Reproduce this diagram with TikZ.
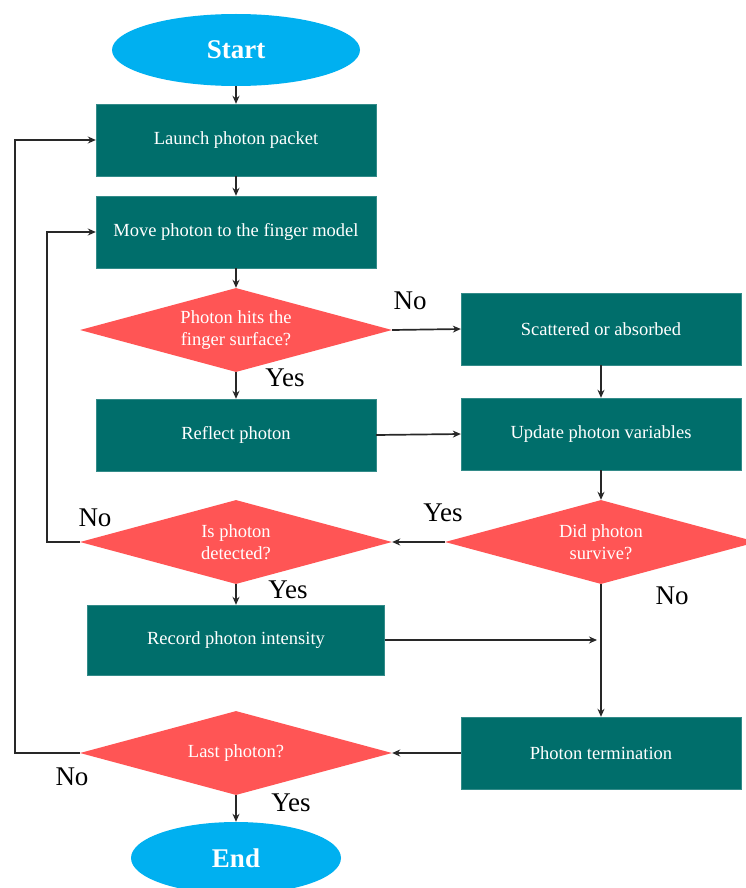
\documentclass[tikz,border=0pt]{standalone}
\usepackage{fontspec}
\setmainfont{Liberation Serif}
\usetikzlibrary{shapes.geometric,arrows.meta}
\definecolor{teal1}{RGB}{0,110,107}
\definecolor{red1}{RGB}{255,85,85}
\definecolor{blue1}{RGB}{0,176,240}
\definecolor{line1}{RGB}{40,40,40}
\tikzset{
  procbox/.style={rectangle, fill=teal1, draw=teal1!80!white, line width=0.4pt, minimum width=280pt, minimum height=72pt, inner sep=0pt, text=white, font=\rmfamily\fontsize{18.5}{22}\selectfont, align=center},
  decbox/.style={diamond, fill=red1, minimum width=312pt, minimum height=84pt, inner sep=0pt, aspect=3.7, text=white, font=\rmfamily\fontsize{18.5}{22}\selectfont, align=center},
  termbox/.style={ellipse, fill=blue1, inner sep=0pt, text=white, font=\rmfamily\fontsize{27}{30}\selectfont\bfseries},
  conn/.style={draw=line1, line width=1.7pt, -{Stealth[length=8pt,width=7pt]}},
  lbl/.style={font=\rmfamily\fontsize{27}{30}\selectfont, text=black, inner sep=0pt}
}
\begin{document}
\begin{tikzpicture}[x=1pt,y=-1pt]
\useasboundingbox (0,0) rectangle (746,888);
\fill[white] (0,0) rectangle (746,888);
\node[termbox, minimum width=248pt, minimum height=72pt] (start) at (236,50) {Start};
\node[procbox] (launch) at (236,140) {Launch photon packet};
\node[procbox] (move) at (236,232) {Move photon to the finger model};
\node[decbox] (hits) at (236,330) {Photon hits the\\finger surface?};
\node[procbox] (scat) at (601,329) {Scattered or absorbed};
\node[procbox] (refl) at (236,435) {Reflect photon};
\node[procbox] (upd) at (601,434) {Update photon variables};
\node[decbox] (surv) at (601,542) {Did photon\\survive?};
\node[decbox] (det) at (236,542) {Is photon\\detected?};
\node[procbox, minimum width=297pt, minimum height=70pt] (rec) at (236,640) {Record photon intensity};
\node[procbox] (term) at (601,753) {Photon termination};
\node[decbox] (last) at (236,753) {Last photon?};
\node[termbox, minimum width=210pt, minimum height=72pt] (end) at (236,858) {End};
\coordinate (j1) at (601,640);
\coordinate (l1) at (47,542);
\coordinate (l2) at (47,232);
\coordinate (o1) at (15,753);
\coordinate (o2) at (15,140);

\draw[conn] (start) -- (launch);
\draw[conn] (launch) -- (move);
\draw[conn] (move) -- (hits);
\draw[conn] (hits.east) -- (scat.west);
\draw[conn] (hits) -- (refl);
\draw[conn] (refl.east) -- (upd.west);
\draw[conn] (scat) -- (upd);
\draw[conn] (upd) -- (surv);
\draw[conn] (surv.west) -- (det.east);
\draw[conn] (det.west) -- (l1) -- (l2) -- (move.west);
\draw[conn] (det) -- (rec);
\draw[conn, shorten >=4pt] (rec.east) -- (j1);
\draw[conn] (surv.south) -- (term.north);
\draw[conn] (term.west) -- (last.east);
\draw[conn] (last.west) -- (o1) -- (o2) -- (launch.west);
\draw[conn] (last) -- (end);

\node[lbl] (n1) at (410,301) {No};
\node[lbl] (y1) at (285,378) {Yes};
\node[lbl] (y2) at (443,513) {Yes};
\node[lbl] (n2) at (95,518) {No};
\node[lbl] (y3) at (288,590) {Yes};
\node[lbl] (n3) at (672,596) {No};
\node[lbl] (n4) at (72,777) {No};
\node[lbl] (y4) at (291,803) {Yes};
\end{tikzpicture}
\end{document}
